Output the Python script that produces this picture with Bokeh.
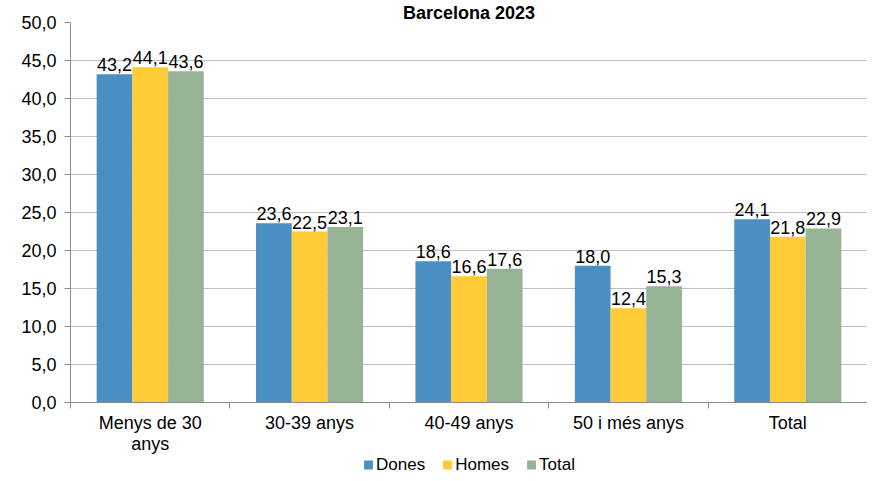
from bokeh.plotting import figure
from bokeh.layouts import column
from bokeh.models import (ColumnDataSource, FixedTicker, LinearAxis, Range1d,
                          Legend, LegendItem, LabelSet, Grid)
from bokeh.core.properties import value
from bokeh.embed import file_html
from bokeh.resources import INLINE

categories = ["Menys de 30\nanys", "30-39 anys", "40-49 anys", "50 i més anys", "Total"]
dones = [43.2, 23.6, 18.6, 18.0, 24.1]
homes = [44.1, 22.5, 16.6, 12.4, 21.8]
total = [43.6, 23.1, 17.6, 15.3, 22.9]
series_names = ["Dones", "Homes", "Total"]
y_ticks = [0, 5, 10, 15, 20, 25, 30, 35, 40, 45, 50]

colors = ["#4A8FC3", "#FFCB37", "#97B396"]
FONT = "Liberation Sans"
FS = "18px"

def fmt(v):
    return f"{v:.1f}".replace(".", ",")

p = figure(width=867, height=456, output_backend="svg", toolbar_location=None,
           x_range=Range1d(0, len(categories)), y_range=Range1d(0, 50),
           x_axis_type=None, y_axis_type=None,
           min_border_left=70, min_border_right=0, min_border_top=0, min_border_bottom=0)
p.outline_line_color = None
p.background_fill_color = "white"
p.border_fill_color = "white"

p.title.text = "Barcelona 2023"
p.title.text_font = FONT
p.title.text_font_size = "18px"
p.title.text_font_style = "bold"
p.title.text_color = "#000000"
p.title.align = "center"
p.title.standoff = 0
p.title.offset = 8

# y axis
yax = LinearAxis(ticker=FixedTicker(ticks=y_ticks))
yax.major_label_overrides = {t: fmt(t) for t in y_ticks}
yax.major_label_text_font = FONT
yax.major_label_text_font_size = FS
yax.major_label_text_color = "#000000"
yax.axis_line_color = "#8C8C8C"
yax.major_tick_line_color = "#8C8C8C"
yax.major_tick_out = 6
yax.major_tick_in = 0
yax.minor_tick_line_color = None
yax.major_label_standoff = 8
p.add_layout(yax, "left")

# x axis: labels at category centres, minor ticks at category boundaries
centers = [i + 0.5 for i in range(len(categories))]
bounds = list(range(len(categories) + 1))
xax = LinearAxis(ticker=FixedTicker(ticks=centers, minor_ticks=bounds))
xax.major_label_overrides = {c: lab for c, lab in zip(centers, categories)}
xax.major_label_text_font = FONT
xax.major_label_text_font_size = FS
xax.major_label_text_color = "#000000"
xax.major_label_text_line_height = 1.05
xax.major_label_standoff = 4
xax.axis_line_color = "#8C8C8C"
xax.major_tick_line_color = None
xax.major_tick_out = 0
xax.major_tick_in = 0
xax.minor_tick_line_color = "#8C8C8C"
xax.minor_tick_out = 6
xax.minor_tick_in = 0
p.add_layout(xax, "below")

grid = Grid(dimension=1, ticker=FixedTicker(ticks=y_ticks))
grid.grid_line_color = "#BFBFBF"
grid.grid_line_width = 1
p.add_layout(grid)

# legend strip
q = figure(width=867, height=17, output_backend="svg", toolbar_location=None,
           x_range=Range1d(0, 1), y_range=Range1d(0, 1),
           x_axis_type=None, y_axis_type=None,
           min_border_left=0, min_border_right=0, min_border_top=0, min_border_bottom=0)
q.outline_line_color = None
q.grid.visible = False

bw = 0.224
offsets = [-bw, 0, bw]
items = []
for name, vals, col, off in zip(series_names, [dones, homes, total], colors, offsets):
    src = ColumnDataSource(dict(x=[c + off for c in centers], top=vals,
                                lab=[fmt(v) for v in vals]))
    p.vbar(x="x", top="top", width=bw, source=src, fill_color=col, line_color=None)
    ls = LabelSet(x="x", y="top", text="lab", source=src, text_align="center",
                  text_baseline="bottom", y_offset=3, text_font=value(FONT),
                  text_font_size=value(FS), text_color="#000000")
    p.add_layout(ls)
    # legend swatch renderer (kept outside the strip's visible range)
    lr = q.vbar(x=[-5], top=[-4], bottom=[-5], width=0.1, fill_color=col, line_color=None)
    items.append(LegendItem(label=name, renderers=[lr]))

legend = Legend(items=items, orientation="horizontal", location="center")
legend.label_text_font = FONT
legend.label_text_font_size = "17px"
legend.label_text_color = "#000000"
legend.label_height = 15
legend.glyph_width = 11
legend.glyph_height = 11
legend.spacing = 16
legend.label_standoff = 3
legend.padding = 0
legend.margin = 0
legend.border_line_color = None
legend.background_fill_alpha = 0
q.add_layout(legend)

layout = column(p, q, spacing=0)
open("out.html", "w").write(file_html(layout, INLINE))
